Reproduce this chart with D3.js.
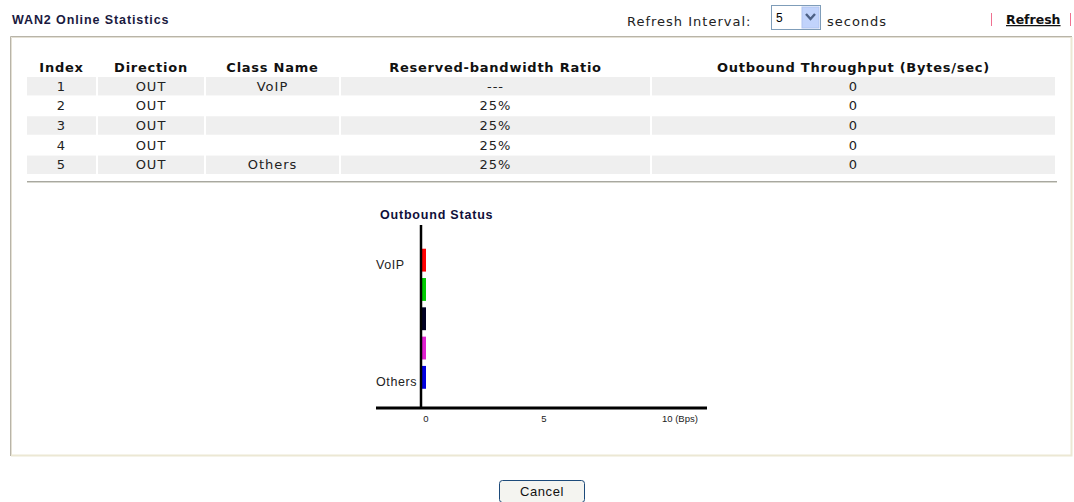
<!DOCTYPE html>
<html>
<head>
<meta charset="utf-8">
<script src="https://cdn.jsdelivr.net/npm/d3@7"></script>
<style>
  body { margin: 0; background: #fff; }
  svg text { font-family: "DejaVu Sans", Verdana, sans-serif; }
  .arial { font-family: "Liberation Sans", Arial, sans-serif !important; }
</style>
</head>
<body>
<div id="page"></div>
<script>
// table data
var headers = ["Index", "Direction", "Class Name", "Reserved-bandwidth Ratio", "Outbound Throughput (Bytes/sec)"];
var indexes = [1, 2, 3, 4, 5];
var directions = ["OUT", "OUT", "OUT", "OUT", "OUT"];
var classNames = ["VoIP", "", "", "", "Others"];
var ratios = ["---", "25%", "25%", "25%", "25%"];
var throughput = [0, 0, 0, 0, 0];

// chart data
var barColors = ["#ff0000", "#00cc00", "#000022", "#e020d0", "#0000e0"];
var xTicks = [0, 5, 10];
var xMax = 10;
var unitLabel = "(Bps)";
var refreshInterval = "5";

var W = 1074, H = 502;

var svg = d3.select("#page").append("svg")
    .attr("width", W)
    .attr("height", H);

// page title
svg.append("text")
    .attr("class", "arial")
    .attr("x", 12).attr("y", 24)
    .style("font-size", "12.5px")
    .style("font-weight", "bold")
    .style("letter-spacing", "0.9px")
    .attr("fill", "#1a1a40")
    .text("WAN2 Online Statistics");

// refresh controls
svg.append("text")
    .attr("x", 627).attr("y", 26)
    .style("font-size", "13px")
    .style("letter-spacing", "1px")
    .attr("fill", "#222")
    .text("Refresh Interval:");

svg.append("rect")
    .attr("x", 771.5).attr("y", 5.5)
    .attr("width", 49).attr("height", 24)
    .attr("fill", "#fff").attr("stroke", "#7f9db9");
svg.append("rect")
    .attr("x", 802).attr("y", 7)
    .attr("width", 17).attr("height", 21)
    .attr("fill", "#c1d3fb").attr("stroke", "#b0c4f0");
svg.append("path")
    .attr("d", "M806,14 L810.5,19 L815,14")
    .attr("fill", "none").attr("stroke", "#4d6185").attr("stroke-width", 2.4);
svg.append("text")
    .attr("class", "arial")
    .attr("x", 776).attr("y", 22)
    .style("font-size", "12px")
    .text(refreshInterval);

svg.append("text")
    .attr("x", 827).attr("y", 26)
    .style("font-size", "13px")
    .style("letter-spacing", "1px")
    .attr("fill", "#222")
    .text("seconds");

svg.append("line")
    .attr("x1", 991.5).attr("x2", 991.5).attr("y1", 13).attr("y2", 26)
    .attr("stroke", "#f07090");
svg.append("line")
    .attr("x1", 1070.5).attr("x2", 1070.5).attr("y1", 13).attr("y2", 26)
    .attr("stroke", "#f07090");
svg.append("text")
    .attr("x", 1006).attr("y", 24)
    .style("font-size", "12.5px")
    .style("font-weight", "bold")
    .style("text-decoration", "underline")
    .attr("fill", "#111")
    .text("Refresh");

// panel (inset border)
svg.append("path")
    .attr("d", "M10.5,456 V36.5 H1072")
    .attr("fill", "none").attr("stroke", "#b8b4a8").attr("stroke-width", 1);
svg.append("path")
    .attr("d", "M11.5,456 V37.5 H1071")
    .attr("fill", "none").attr("stroke", "#e4e0d4").attr("stroke-width", 1);
svg.append("path")
    .attr("d", "M11,455.5 H1071.5 V37")
    .attr("fill", "none").attr("stroke", "#ece8d4").attr("stroke-width", 2);

// ---- table ----
var colEdges = [27, 98, 206, 341, 652, 1057];
var colX = function(i) { return colEdges[i]; };
var colW = function(i) { return colEdges[i + 1] - colEdges[i] - 2; };

var rowY = d3.scaleBand()
    .domain(indexes)
    .range([77, 174])
    .paddingInner(0.06);

var rows = indexes.map(function(d, i) {
  return [String(d), directions[i], classNames[i], ratios[i], String(throughput[i])];
});

var table = svg.append("g").attr("class", "table");

table.selectAll("text.head")
    .data(headers)
    .enter().append("text")
    .attr("class", "head")
    .attr("x", function(d, i) { return colX(i) + colW(i) / 2; })
    .attr("y", 72)
    .attr("text-anchor", "middle")
    .style("font-size", "13px")
    .style("font-weight", "bold")
    .style("letter-spacing", "0.75px")
    .attr("fill", "#111")
    .text(function(d) { return d; });

var rowG = table.selectAll("g.row")
    .data(rows)
    .enter().append("g")
    .attr("class", "row")
    .attr("transform", function(d, i) { return "translate(0," + rowY(indexes[i]) + ")"; });

rowG.selectAll("rect")
    .data(function(d) { return d; })
    .enter().append("rect")
    .attr("x", function(d, i) { return colX(i); })
    .attr("width", function(d, i) { return colW(i); })
    .attr("height", rowY.bandwidth())
    .attr("fill", function() {
      var r = d3.select(this.parentNode).datum();
      return rows.indexOf(r) % 2 === 0 ? "#efefef" : "#ffffff";
    });

rowG.selectAll("text")
    .data(function(d) { return d; })
    .enter().append("text")
    .attr("x", function(d, i) { return colX(i) + colW(i) / 2; })
    .attr("y", rowY.bandwidth() / 2 + 4.5)
    .attr("text-anchor", "middle")
    .style("font-size", "13px")
    .style("letter-spacing", "1px")
    .attr("fill", "#222")
    .text(function(d) { return d; });

// separator
svg.append("line")
    .attr("x1", 27).attr("x2", 1057).attr("y1", 181.5).attr("y2", 181.5)
    .attr("stroke", "#a8a8a0");
svg.append("line")
    .attr("x1", 27).attr("x2", 1057).attr("y1", 182.5).attr("y2", 182.5)
    .attr("stroke", "#d8d8d0");

// ---- outbound status chart ----
var x = d3.scaleLinear()
    .domain([0, xMax])
    .range([426, 662]);

var y = d3.scaleBand()
    .domain(indexes)
    .range([245.5, 392])
    .paddingInner(0.22)
    .paddingOuter(0.11);

var chart = svg.append("g").attr("class", "chart");

chart.append("text")
    .attr("class", "arial")
    .attr("x", 380).attr("y", 219)
    .style("font-size", "12.5px")
    .style("font-weight", "bold")
    .style("letter-spacing", "0.8px")
    .attr("fill", "#10103a")
    .text("Outbound Status");

// bars (values are 0; the page still draws a thin stub)
chart.selectAll("rect.bar")
    .data(throughput)
    .enter().append("rect")
    .attr("class", "bar")
    .attr("x", x(0) - 4)
    .attr("y", function(d, i) { return y(indexes[i]); })
    .attr("width", function(d) { return Math.max(x(d) - x(0), 0) + 4; })
    .attr("height", y.bandwidth())
    .attr("fill", function(d, i) { return barColors[i]; });

// class labels
chart.selectAll("text.cls")
    .data(classNames)
    .enter().append("text")
    .attr("class", "cls arial")
    .attr("x", 376)
    .attr("y", function(d, i) { return y(indexes[i]) + y.bandwidth() - 3; })
    .style("font-size", "12.5px")
    .style("letter-spacing", "0.6px")
    .attr("fill", "#222")
    .text(function(d) { return d; });

// axes
chart.append("line")
    .attr("x1", 421).attr("x2", 421).attr("y1", 225).attr("y2", 409)
    .attr("stroke", "#000").attr("stroke-width", 2.5);
chart.append("line")
    .attr("x1", 376).attr("x2", 707).attr("y1", 408).attr("y2", 408)
    .attr("stroke", "#000").attr("stroke-width", 3);

chart.selectAll("text.tick")
    .data(xTicks)
    .enter().append("text")
    .attr("class", "tick arial")
    .attr("x", function(d) { return x(d); })
    .attr("y", 422)
    .attr("text-anchor", function(d) { return d === xMax ? "start" : "middle"; })
    .style("font-size", "9.5px")
    .attr("fill", "#222")
    .text(function(d) { return d === xMax ? d + " " + unitLabel : d; });

// cancel button
svg.append("rect")
    .attr("x", 499.5).attr("y", 480.5)
    .attr("width", 85).attr("height", 22)
    .attr("rx", 3)
    .attr("fill", "#f4f4f0").attr("stroke", "#1c4a7a");
svg.append("text")
    .attr("class", "arial")
    .attr("x", 542).attr("y", 496)
    .attr("text-anchor", "middle")
    .style("font-size", "13px")
    .style("letter-spacing", "0.6px")
    .attr("fill", "#111")
    .text("Cancel");
</script>
</body>
</html>
